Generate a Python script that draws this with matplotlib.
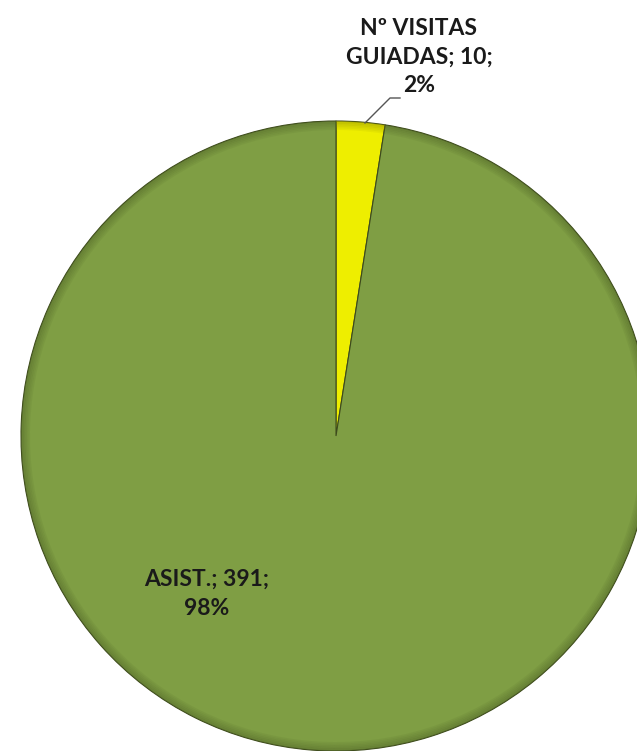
import matplotlib.pyplot as plt
from matplotlib.patches import Wedge

categories = ['Nº VISITAS GUIADAS', 'ASIST.']
values = [10, 391]
colors = ['#eeee00', '#7f9e44']
edge_colors = ['#8a8a00', '#4b5f24']

W, H = 637, 751
cx, cy, r = 336, H - 436, 315


def make_label(name, val, total):
    pct = round(100 * val / total)
    return f'{name}; {val};\n{pct}%'


def pie_chart():
    plt.rcParams['font.family'] = ['Lato', 'DejaVu Sans']
    fig = plt.figure(figsize=(W / 100, H / 100), dpi=100)
    ax = fig.add_axes([0, 0, 1, 1])

    wedges, _ = ax.pie(values, colors=colors, startangle=90, counterclock=False,
                       center=(cx, cy), radius=r,
                       wedgeprops=dict(edgecolor='#3d4a1c', linewidth=0.8))

    # bevel look: darker rim on each slice
    for w, ec in zip(wedges, edge_colors):
        for i in range(6):
            ring = Wedge((cx, cy), r - i * 1.5, w.theta1, w.theta2, width=1.5,
                         facecolor=ec, edgecolor='none', alpha=0.5 - i * 0.08)
            ax.add_patch(ring)

    total = sum(values)
    # small slice label wraps over three lines
    lab = make_label(categories[0], values[0], total).replace('VISITAS ', 'VISITAS\n')
    ax.text(419, H - 57, lab, ha='center', va='center', fontsize=16.5,
            fontweight='bold', color='#1a1a1a', linespacing=1.45)
    ax.plot([365, 390, 400], [H - 123, H - 98, H - 98], color='#555555', lw=1)

    ax.text(207, H - 594, make_label(categories[1], values[1], total),
            ha='center', va='center', fontsize=16.5, fontweight='bold',
            color='#1a1a1a', linespacing=1.45)

    ax.set_xlim(0, W)
    ax.set_ylim(0, H)
    ax.set_aspect('equal')
    ax.axis('off')
    fig.savefig('out.png', dpi=100)


if __name__ == "__main__":
    pie_chart()
